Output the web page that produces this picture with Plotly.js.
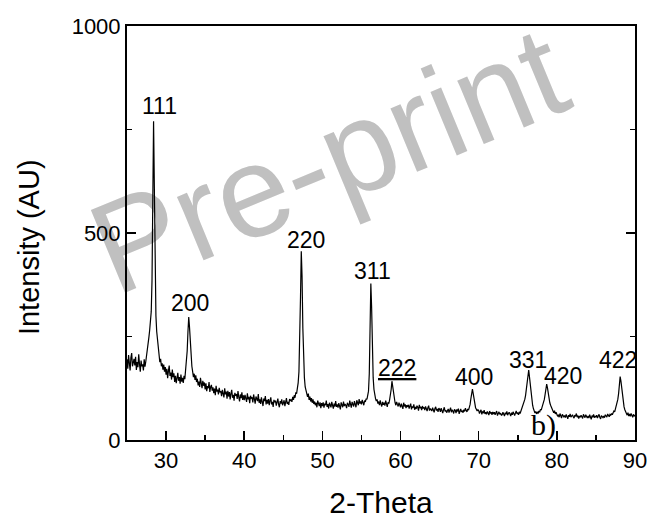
<!DOCTYPE html>
<html>
<head>
<meta charset="utf-8">
<script src="https://cdn.plot.ly/plotly-3.0.1.min.js"></script>
<style>
  html, body { margin: 0; padding: 0; background: #ffffff; }
  #wrap { position: relative; width: 650px; height: 521px; }
  #wm { position: absolute; left: 0; top: 0; z-index: 0; }
  #chart { position: absolute; left: 0; top: 0; z-index: 1; }
</style>
</head>
<body>
<div id="wrap">
  <div id="wm"></div>
  <div id="chart"></div>
</div>
<script>
// 2-Theta grid: first angle and step (degrees)
const thetaStart = 25.0;
const thetaStep = 0.1;

const intensity = [
  195,172,205,183,168,199,210,178,187,196,   // 25
  180,201,169,188,176,207,183,165,192,178,   // 26
  183,168,195,177,189,201,215,232,248,265,   // 27
  285,310,385,590,770,610,400,300,262,238,   // 28
  215,205,188,196,178,185,170,182,165,176,   // 29
  158,172,149,167,180,155,163,146,170,152,   // 30
  161,140,155,137,148,162,143,152,136,158,   // 31
  141,150,138,155,147,168,185,215,262,297,   // 32
  272,228,196,178,165,152,160,145,156,140,   // 33
  148,132,141,128,150,136,125,143,131,139,   // 34
  122,137,118,130,125,140,116,128,133,119,   // 35
  127,113,124,108,131,117,122,110,126,115,   // 36
  118,106,121,112,103,125,110,117,100,119,   // 37
  105,116,98,112,121,102,109,95,114,107,     // 38
  111,99,118,104,93,110,101,115,97,108,      // 39
  96,109,100,92,113,98,104,89,107,101,       // 40
  103,91,110,96,88,105,99,94,111,90,         // 41
  98,87,103,93,82,100,94,106,86,97,          // 42
  88,99,84,95,103,86,92,80,97,91,            // 43
  95,83,91,100,86,79,94,88,98,84,            // 44
  89,96,82,93,101,87,92,85,99,94,            // 45
  98,92,104,97,108,102,115,112,125,138,      // 46
  165,230,345,456,395,270,190,150,128,118,   // 47
  110,104,112,97,105,93,101,90,98,87,        // 48
  93,84,90,79,95,86,82,91,77,89,             // 49
  82,91,78,88,84,95,80,87,76,90,             // 50
  85,79,92,83,76,88,81,94,80,86,             // 51
  78,89,83,74,91,85,79,93,82,87,             // 52
  84,77,90,86,80,95,83,78,92,88,             // 53
  81,94,87,79,96,90,84,99,88,93,             // 54
  86,97,90,84,95,92,100,98,108,118,          // 55
  160,270,378,320,215,150,122,108,100,94,    // 56
  98,88,93,84,96,87,81,92,85,90,             // 57
  83,95,86,80,91,88,97,106,122,142,          // 58
  128,108,96,90,84,92,86,81,90,84,           // 59
  79,88,83,75,90,81,86,77,84,80,             // 60
  85,76,82,88,74,81,78,86,73,80,             // 61
  75,83,79,71,85,77,80,72,82,76,             // 62
  79,72,81,74,70,78,83,71,76,73,             // 63
  70,78,73,67,76,80,71,75,68,77,             // 64
  74,68,77,70,65,73,79,69,72,66,             // 65
  69,75,66,72,78,67,73,70,64,74,             // 66
  72,65,74,69,76,63,71,75,68,70,             // 67
  66,73,69,77,71,68,75,72,79,86,             // 68
  100,114,123,112,96,85,78,74,70,73,         // 69
  71,64,69,73,62,68,66,72,63,67,             // 70
  62,69,65,60,70,64,67,61,68,63,             // 71
  67,61,66,70,59,64,68,62,65,60,             // 72
  61,67,63,58,66,62,69,60,64,67,             // 73
  63,58,66,61,68,62,59,65,70,63,             // 74
  66,61,68,64,70,73,78,84,90,98,             // 75
  108,125,145,162,169,152,130,110,94,84,     // 76
  76,70,65,69,63,68,64,70,67,74,             // 77
  72,79,84,90,98,110,124,135,126,112,        // 78
  100,90,84,78,74,70,66,71,63,67,            // 79
  63,57,61,55,64,59,53,62,58,56,             // 80
  59,54,62,57,51,60,56,63,55,58,             // 81
  61,56,53,60,57,64,55,59,52,58,             // 82
  55,60,57,52,62,58,54,61,56,53,             // 83
  58,53,61,56,50,59,55,62,54,57,             // 84
  56,60,53,58,62,55,51,59,57,54,             // 85
  58,54,61,57,55,63,59,56,62,60,             // 86
  64,61,66,70,68,75,80,88,98,112,            // 87
  130,153,142,122,104,90,80,73,68,64,        // 88
  60,66,58,63,57,64,61,55,62,58,             // 89
  60                                         // 90.0
];

// Peak (hkl) labels and where they sit (2-Theta, intensity at label bottom)
const peakLabels = ['111', '200', '220', '311', '<span style="text-decoration:underline">222</span>', '400', '331', '420', '422'];
const labelTheta = [29.1, 33.0, 47.85, 56.45, 59.5, 69.4, 76.3, 80.75, 87.8];
const labelIntensity = [770, 294, 448, 371, 138, 117, 158, 118, 157];

// axis ticks
const xTicks = [30, 40, 50, 60, 70, 80, 90];
const yTicks = [0, 500, 1000];

const twoTheta = intensity.map((_, i) => +(thetaStart + i * thetaStep).toFixed(1));

const FONT = 'Arial, "Liberation Sans", sans-serif';

// Watermark on its own layer underneath the chart
Plotly.newPlot('wm', [], {
  width: 650, height: 521, margin: { l: 0, r: 0, t: 0, b: 0 },
  paper_bgcolor: 'rgba(0,0,0,0)', plot_bgcolor: 'rgba(0,0,0,0)',
  xaxis: { visible: false }, yaxis: { visible: false }, showlegend: false,
  annotations: [{
    text: 'Pre-print', xref: 'paper', yref: 'paper', x: 0.5046, y: 0.6929,
    xanchor: 'center', yanchor: 'middle', textangle: -22.5, showarrow: false,
    font: { family: FONT, size: 130, color: '#c0c0c0' }
  }]
}, { displayModeBar: false, staticPlot: true });

const annotations = peakLabels.map((t, i) => ({
  text: t, x: labelTheta[i], y: labelIntensity[i], xref: 'x', yref: 'y',
  xanchor: 'center', yanchor: 'bottom', showarrow: false,
  font: { family: FONT, size: 23, color: '#000' }
}));
annotations.push({
  text: 'b)', x: 78.35, y: 36, xref: 'x', yref: 'y', xanchor: 'center', yanchor: 'middle',
  showarrow: false, font: { family: '"Liberation Serif", "Times New Roman", serif', size: 30, color: '#000' }
});
annotations.push({
  text: 'Intensity (AU)', x: -0.194, y: 0.467, xref: 'paper', yref: 'paper', textangle: -90,
  xanchor: 'center', yanchor: 'middle', showarrow: false,
  font: { family: FONT, size: 29, color: '#000' }
});

const trace = {
  x: twoTheta, y: intensity, type: 'scatter', mode: 'lines',
  line: { color: '#000', width: 1.2 }, hoverinfo: 'skip'
};

const layout = {
  width: 650, height: 521,
  margin: { l: 127, r: 15, t: 26, b: 81 },
  paper_bgcolor: 'rgba(0,0,0,0)', plot_bgcolor: 'rgba(0,0,0,0)',
  showlegend: false,
  font: { family: FONT, color: '#000' },
  xaxis: {
    range: [25, 90], tickvals: xTicks, ticktext: xTicks.map(String),
    ticks: 'inside', ticklen: 9, tickwidth: 1.5, tickcolor: '#000',
    minor: { dtick: 5, tick0: 25, ticks: 'inside', ticklen: 5, tickwidth: 1.5, tickcolor: '#000' },
    showline: true, linecolor: '#000', linewidth: 2, mirror: true,
    showgrid: false, zeroline: false,
    tickfont: { family: FONT, size: 22, color: '#000' },
    title: { text: '2-Theta', font: { family: FONT, size: 30, color: '#000' }, standoff: 20 }
  },
  yaxis: {
    range: [0, 1000], tickvals: yTicks, ticktext: yTicks.map(String),
    ticks: 'inside', ticklen: 9, tickwidth: 1.5, tickcolor: '#000',
    minor: { dtick: 250, tick0: 0, ticks: 'inside', ticklen: 5, tickwidth: 1.5, tickcolor: '#000' },
    showline: true, linecolor: '#000', linewidth: 2, mirror: 'ticks',
    showgrid: false, zeroline: false,
    tickfont: { family: FONT, size: 22, color: '#000' }
  },
  annotations: annotations
};

Plotly.newPlot('chart', [trace], layout, { displayModeBar: false, staticPlot: true });
</script>
</body>
</html>
